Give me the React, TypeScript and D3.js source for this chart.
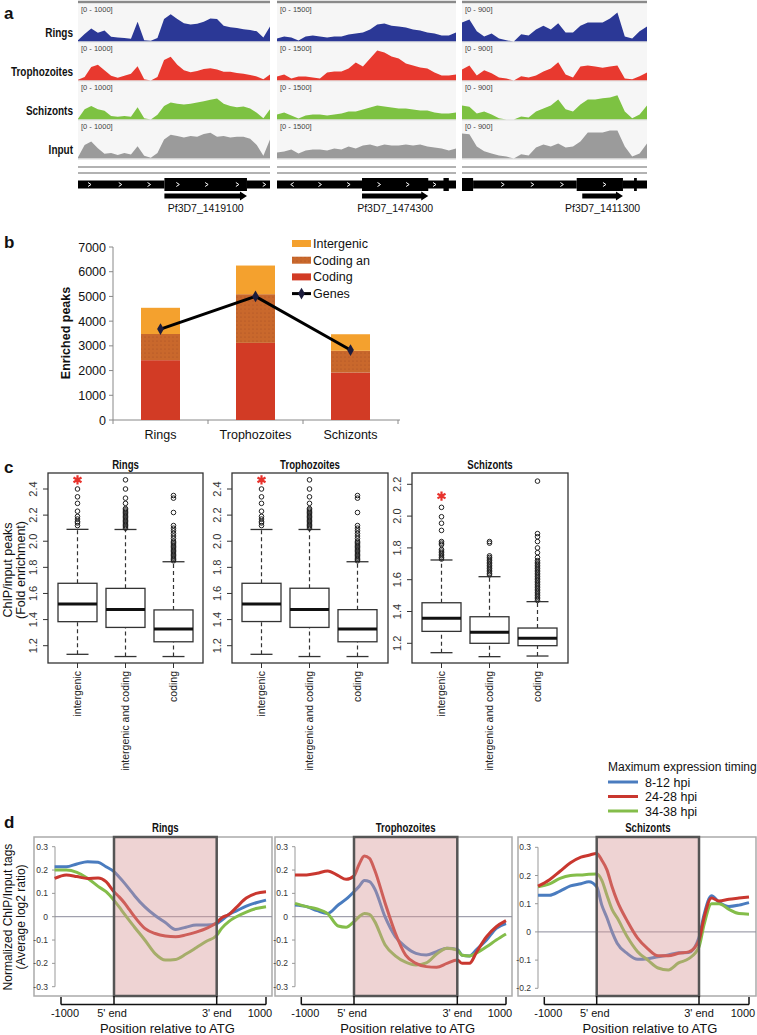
import React, { useEffect, useRef } from 'react';
import * as d3 from 'd3';

const W = 757;
const H = 1035;
const FONT = 'Arial, "Liberation Sans", Helvetica, sans-serif';

// ---------- panel a: coverage tracks ----------
const trackNames = ['Rings', 'Trophozoites', 'Schizonts', 'Input'];
const trackColors = ['#2b3896', '#e8392f', '#7dc242', '#9b9b9b'];
const locusMax = [1000, 1500, 900];
const locusGenes = ['Pf3D7_1419100', 'Pf3D7_1474300', 'Pf3D7_1411300'];

const ringsL1 = [40, 220, 380, 260, 320, 140, 120, 100, 80, 580, 40, 20, 100, 660, 800, 660, 540, 500, 520, 580, 680, 660, 460, 420, 400, 360, 340, 300, 120, 440];
const trophL1 = [20, 100, 400, 460, 300, 140, 80, 140, 200, 420, 40, 0, 100, 600, 700, 460, 300, 240, 280, 340, 360, 320, 260, 260, 220, 200, 160, 120, 40, 180];
const schizL1 = [20, 300, 400, 300, 260, 100, 80, 100, 80, 360, 40, 0, 140, 400, 500, 460, 440, 460, 500, 540, 580, 620, 460, 400, 360, 380, 320, 200, 40, 300];
const inputL1 = [40, 400, 500, 300, 140, 160, 100, 160, 120, 360, 80, 20, 160, 560, 700, 660, 620, 660, 640, 720, 760, 640, 660, 620, 640, 640, 580, 400, 80, 560];

const ringsL2 = [130, 220, 180, 40, 220, 260, 220, 180, 220, 220, 310, 350, 400, 530, 750, 790, 700, 660, 620, 530, 480, 400, 350, 260, 260, 400];
const trophL2 = [180, 260, 90, 180, 180, 130, 90, 350, 400, 400, 530, 790, 620, 970, 1320, 1230, 1060, 970, 750, 660, 570, 530, 350, 220, 220, 260];
const schizL2 = [220, 310, 180, 40, 180, 220, 220, 180, 220, 260, 350, 350, 440, 530, 620, 570, 530, 480, 480, 440, 400, 400, 310, 260, 260, 310];
const inputL2 = [260, 310, 400, 220, 350, 400, 400, 350, 440, 400, 530, 440, 570, 620, 530, 620, 570, 570, 620, 570, 620, 530, 480, 440, 350, 440];

const ringsL3 = [500, 580, 270, 130, 210, 80, 30, 0, 190, 160, 320, 420, 320, 480, 240, 240, 420, 500, 500, 500, 610, 770, 130, 80, 270, 400];
const trophL3 = [290, 400, 130, 270, 190, 80, 50, 0, 110, 80, 130, 240, 320, 480, 160, 80, 370, 400, 370, 340, 370, 400, 50, 30, 110, 210];
const schizL3 = [370, 340, 160, 210, 130, 30, 0, 0, 80, 50, 210, 290, 370, 530, 270, 210, 400, 530, 530, 560, 580, 640, 210, 30, 130, 370];
const inputL3 = [660, 640, 320, 190, 130, 80, 50, 0, 110, 80, 290, 370, 320, 400, 290, 320, 450, 690, 690, 690, 740, 740, 320, 50, 130, 400];

const locusTracks = [
  [ringsL1, trophL1, schizL1, inputL1],
  [ringsL2, trophL2, schizL2, inputL2],
  [ringsL3, trophL3, schizL3, inputL3],
];

// gene models, in % of the locus window
const geneModelL1 = [[0, 45, 'thin'], [45, 88, 'thick'], [88, 100, 'thin']];
const geneModelL2 = [[0, 100, 'thin'], [47.5, 84.5, 'thick'], [93, 96, 'thick']];
const geneModelL3 = [[0, 6, 'thick'], [6, 62, 'thin'], [62, 87, 'thick'], [87, 100, 'thin'], [93, 94.5, 'thick']];
const geneModels = [geneModelL1, geneModelL2, geneModelL3];
const geneArrows = [[45, 88], [47.5, 84.5], [65, 87]];
const chevronsL1 = [6, 22, 37, 52, 67, 83, 97];
const chevronsL2 = [-8.5, 24, 40, 57, 73, 88];
const chevronsL3 = [22, 38, 54, 77];
const geneChevrons = [chevronsL1, chevronsL2, chevronsL3];

// ---------- panel b: enriched peaks ----------
const stages = ['Rings', 'Trophozoites', 'Schizonts'];
const codingPeaks = [2420, 3120, 1920];
const codingAndPeaks = [1060, 1970, 880];
const intergenicPeaks = [1060, 1160, 670];
const genesCount = [3680, 5000, 2830];
const peakTicks = [0, 1000, 2000, 3000, 4000, 5000, 6000, 7000];

// ---------- panel c: fold enrichment boxplots ----------
const peakClasses = ['intergenic', 'intergenic and coding', 'coding'];
// [low whisker, q1, median, q3, high whisker]
const ringsStats = [[1.134, 1.384, 1.519, 1.678, 2.091], [1.117, 1.34, 1.478, 1.639, 2.09], [1.117, 1.23, 1.328, 1.474, 1.843]];
const trophStats = [[1.134, 1.385, 1.52, 1.678, 2.09], [1.117, 1.34, 1.478, 1.64, 2.09], [1.117, 1.23, 1.328, 1.476, 1.843]];
const schizStats = [[1.141, 1.275, 1.357, 1.455, 1.724], [1.116, 1.2, 1.269, 1.367, 1.619], [1.12, 1.185, 1.231, 1.296, 1.462]];

const ringsOut = [
  [2.12, 2.14, 2.15, 2.17, 2.19, 2.23, 2.29, 2.34, 2.4],
  [2.1, 2.11, 2.12, 2.13, 2.14, 2.15, 2.16, 2.17, 2.18, 2.19, 2.2, 2.21, 2.22, 2.23, 2.24, 2.25, 2.29, 2.33, 2.4, 2.47],
  [1.85, 1.86, 1.87, 1.88, 1.89, 1.9, 1.91, 1.92, 1.93, 1.94, 1.95, 1.96, 1.97, 1.98, 1.99, 2.0, 2.02, 2.04, 2.06, 2.08, 2.1, 2.12, 2.22, 2.33, 2.35],
];
const trophOut = [
  [2.12, 2.14, 2.15, 2.17, 2.19, 2.23, 2.29, 2.34, 2.4],
  [2.1, 2.11, 2.12, 2.13, 2.14, 2.15, 2.16, 2.17, 2.18, 2.19, 2.2, 2.21, 2.22, 2.23, 2.24, 2.25, 2.29, 2.34, 2.4, 2.47],
  [1.85, 1.86, 1.87, 1.88, 1.89, 1.9, 1.91, 1.92, 1.93, 1.94, 1.95, 1.96, 1.97, 1.98, 1.99, 2.0, 2.02, 2.04, 2.06, 2.08, 2.1, 2.12, 2.22, 2.33, 2.35],
];
const schizOut = [
  [1.73, 1.74, 1.75, 1.76, 1.77, 1.78, 1.79, 1.82, 1.83, 1.84, 1.91, 1.955, 1.996, 2.055],
  [1.63, 1.64, 1.65, 1.66, 1.67, 1.68, 1.69, 1.7, 1.71, 1.72, 1.73, 1.74, 1.75, 1.83, 1.84],
  [1.47, 1.48, 1.49, 1.5, 1.51, 1.52, 1.53, 1.54, 1.55, 1.56, 1.57, 1.58, 1.59, 1.6, 1.61, 1.62, 1.63, 1.64, 1.65, 1.66, 1.67, 1.68, 1.69, 1.7, 1.71, 1.72, 1.74, 1.77, 1.8, 1.84, 1.87, 1.89, 2.22],
];
const starValues = [2.47, 2.47, 2.126];

// ---------- panel d: metagene profiles ----------
const timingNames = ['8-12 hpi', '24-28 hpi', '34-38 hpi'];
const timingColors = ['#4a7cbf', '#c9372f', '#84bd4a'];
// position: 0 = -1000, 1 = 5' end, 2 = 3' end, 3 = +1000
const metaPos = [-0.12, 0.1, 0.3, 0.5, 0.7, 0.85, 1.0, 1.05, 1.1, 1.15, 1.2, 1.3, 1.4, 1.5, 1.6, 1.7, 1.8, 1.9, 2.0, 2.1, 2.25, 2.4, 2.6, 2.8, 3.0];

const ringsEarly = [0.214, 0.214, 0.226, 0.236, 0.233, 0.214, 0.193, 0.17, 0.145, 0.118, 0.09, 0.042, 0.005, -0.025, -0.055, -0.045, -0.036, -0.036, -0.03, -0.015, 0.01, 0.025, 0.045, 0.06, 0.071];
const ringsMid = [0.164, 0.179, 0.172, 0.164, 0.166, 0.15, 0.107, 0.085, 0.06, 0.03, 0.0, -0.05, -0.072, -0.083, -0.086, -0.078, -0.066, -0.05, -0.025, -0.005, 0.01, 0.04, 0.08, 0.1, 0.107];
const ringsLate = [0.2, 0.2, 0.19, 0.165, 0.13, 0.107, 0.07, 0.042, 0.012, -0.017, -0.045, -0.1, -0.158, -0.186, -0.183, -0.16, -0.133, -0.105, -0.08, -0.05, -0.02, 0.0, 0.02, 0.035, 0.043];

const trophEarly = [0.05, 0.043, 0.026, 0.014, 0.05, 0.075, 0.107, 0.13, 0.155, 0.15, 0.12, 0.0, -0.085, -0.13, -0.157, -0.164, -0.15, -0.135, -0.14, -0.165, -0.168, -0.14, -0.1, -0.05, -0.029];
const trophMid = [0.179, 0.179, 0.186, 0.196, 0.176, 0.16, 0.175, 0.225, 0.26, 0.25, 0.2, 0.06, -0.07, -0.165, -0.2, -0.214, -0.217, -0.2, -0.186, -0.2, -0.2, -0.15, -0.086, -0.043, -0.017];
const trophLate = [0.057, 0.043, 0.033, 0.013, -0.04, -0.045, -0.021, 0.0, 0.014, 0.01, -0.02, -0.12, -0.168, -0.195, -0.207, -0.198, -0.16, -0.135, -0.143, -0.165, -0.168, -0.155, -0.129, -0.1, -0.074];

const schizEarly = [0.13, 0.13, 0.145, 0.163, 0.171, 0.178, 0.16, 0.095, 0.05, 0.0, -0.04, -0.077, -0.097, -0.095, -0.088, -0.082, -0.074, -0.073, -0.02, 0.06, 0.128, 0.105, 0.09, 0.095, 0.104];
const schizMid = [0.162, 0.185, 0.215, 0.245, 0.265, 0.272, 0.278, 0.254, 0.22, 0.16, 0.11, 0.038, -0.022, -0.06, -0.085, -0.085, -0.076, -0.071, -0.03, 0.05, 0.12, 0.11, 0.116, 0.12, 0.124];
const schizLate = [0.16, 0.17, 0.19, 0.2, 0.202, 0.204, 0.205, 0.183, 0.13, 0.08, 0.05, -0.018, -0.07, -0.1, -0.128, -0.135, -0.11, -0.095, -0.053, 0.025, 0.1, 0.1, 0.08, 0.065, 0.063];

const profileTicksA = [0.3, 0.2, 0.1, 0, -0.1, -0.2, -0.3];
const profileTicksS = [0.3, 0.2, 0.1, 0, -0.1, -0.2];
const metaTickLabels = ['-1000', "5' end", "3' end", '1000'];

type Sel = d3.Selection<any, unknown, null, undefined>;

function label(g: Sel, x: number, y: number, text: string, size: number, opts: any = {}) {
  const t = g
    .append('text')
    .attr('text-anchor', opts.anchor || 'start')
    .attr('font-family', FONT)
    .attr('font-size', size)
    .attr('font-weight', opts.weight || 'normal')
    .attr('fill', opts.fill || '#111')
    .text(text);
  if (opts.squeeze) {
    // condensed headline face, imitated by squeezing Arial horizontally
    t.attr('x', 0).attr('y', 0).attr('transform', `translate(${x},${y}) scale(${opts.squeeze},1)`);
  } else {
    t.attr('x', x).attr('y', y).attr('transform', opts.rotate ? `rotate(${opts.rotate},${x},${y})` : null);
  }
  return t;
}

function drawTracks(svg: Sel) {
  const colX = [[78, 270], [277, 456], [462, 647]];
  const g = svg.append('g');
  label(g, 4, 19, 'a', 17, { weight: 'bold' });

  trackNames.forEach((name, r) => {
    const base = 3 + r * 39 + 38.5;
    label(g, 73, base - 5, name, 13.5, { anchor: 'end', weight: 'bold', squeeze: 0.74 });
  });

  locusTracks.forEach((tracks, c) => {
    const [x0, x1] = colX[c];
    g.append('line').attr('x1', x0).attr('x2', x1).attr('y1', 2).attr('y2', 2)
      .attr('stroke', '#8a8a8a').attr('stroke-width', 2.5);
    tracks.forEach((vals, r) => {
      const top = 3 + r * 39;
      const base = top + 38.5;
      g.append('rect').attr('x', x0).attr('y', top + 1).attr('width', x1 - x0).attr('height', base - top - 1)
        .attr('fill', '#f6f6f6');
      const x = d3.scaleLinear().domain([0, vals.length - 1]).range([x0, x1]);
      const y = d3.scaleLinear().domain([0, locusMax[c]]).range([base, base - 34]);
      const area = d3.area<number>().x((_d, i) => x(i)).y0(base).y1(d => y(d));
      g.append('path').attr('d', area(vals)).attr('fill', trackColors[r]);
      g.append('line').attr('x1', x0).attr('x2', x1).attr('y1', base + 0.5).attr('y2', base + 0.5)
        .attr('stroke', '#d8d8d8').attr('stroke-width', 1);
      label(g, x0 + 3, top + 9, `[0 - ${locusMax[c]}]`, 7.5, { fill: '#444' });
    });
    [167, 173].forEach(yy =>
      g.append('line').attr('x1', x0).attr('x2', x1).attr('y1', yy).attr('y2', yy)
        .attr('stroke', '#999').attr('stroke-width', 1.5));

    // gene model
    const gx = d3.scaleLinear().domain([0, 100]).range([x0, x1]);
    geneModels[c].forEach(([a, b, kind]) => {
      const thick = kind === 'thick';
      g.append('rect').attr('x', gx(a as number)).attr('width', gx(b as number) - gx(a as number))
        .attr('y', thick ? 178 : 180.5).attr('height', thick ? 13 : 8).attr('fill', '#000');
    });
    geneChevrons[c].forEach(p => {
      const px = gx(Math.abs(p));
      const dir = p < 0 ? -1 : 1;
      g.append('path')
        .attr('d', `M${px - 1.5 * dir},${182.5} L${px + 1.5 * dir},${184.5} L${px - 1.5 * dir},${186.5}`)
        .attr('fill', 'none').attr('stroke', '#fff').attr('stroke-width', 1);
    });
    const [a0, a1] = geneArrows[c];
    const ax0 = gx(a0);
    const ax1 = gx(a1);
    g.append('path')
      .attr('d', `M${ax0},193.5 L${ax1 - 7},193.5 L${ax1 - 7},191.5 L${ax1},196 L${ax1 - 7},200.5 L${ax1 - 7},198.5 L${ax0},198.5 Z`)
      .attr('fill', '#000');
    label(g, (ax0 + ax1) / 2, 212, locusGenes[c], 10.5, { anchor: 'middle' });
  });
}

function drawPeaks(svg: Sel) {
  const g = svg.append('g');
  label(g, 4, 248, 'b', 17, { weight: 'bold' });
  const defs = svg.append('defs');
  const pat = defs.append('pattern').attr('id', 'dots').attr('width', 4).attr('height', 4)
    .attr('patternUnits', 'userSpaceOnUse');
  pat.append('rect').attr('width', 4).attr('height', 4).attr('fill', '#c9682c');
  pat.append('circle').attr('cx', 1).attr('cy', 1).attr('r', 0.6).attr('fill', '#8a3e1c').attr('opacity', 0.6);

  const x = d3.scaleBand().domain(stages).range([113, 398]);
  const y = d3.scaleLinear().domain([0, 7000]).range([420, 247]);
  const bw = 39;

  g.append('line').attr('x1', 113).attr('x2', 113).attr('y1', y(7000)).attr('y2', y(0)).attr('stroke', '#888');
  peakTicks.forEach(t => {
    g.append('line').attr('x1', 109).attr('x2', 113).attr('y1', y(t)).attr('y2', y(t)).attr('stroke', '#888');
    label(g, 106, y(t) + 4.5, String(t), 12.5, { anchor: 'end' });
  });
  g.append('line').attr('x1', 113).attr('x2', 400).attr('y1', y(0)).attr('y2', y(0)).attr('stroke', '#888');
  [113, 208, 303, 398].forEach(t =>
    g.append('line').attr('x1', t).attr('x2', t).attr('y1', y(0)).attr('y2', y(0) + 4).attr('stroke', '#888'));

  stages.forEach((s, i) => {
    const cx = (x(s) || 0) + x.bandwidth() / 2;
    const c1 = codingPeaks[i];
    const c2 = c1 + codingAndPeaks[i];
    const c3 = c2 + intergenicPeaks[i];
    g.append('rect').attr('x', cx - bw / 2).attr('width', bw).attr('y', y(c1)).attr('height', y(0) - y(c1)).attr('fill', '#d23b25');
    g.append('rect').attr('x', cx - bw / 2).attr('width', bw).attr('y', y(c2)).attr('height', y(c1) - y(c2)).attr('fill', 'url(#dots)');
    g.append('rect').attr('x', cx - bw / 2).attr('width', bw).attr('y', y(c3)).attr('height', y(c2) - y(c3)).attr('fill', '#f4a12e');
    label(g, cx, 439, s, 12.5, { anchor: 'middle' });
  });

  const line = d3.line<number>().x((_d, i) => (x(stages[i]) || 0) + x.bandwidth() / 2).y(d => y(d));
  g.append('path').attr('d', line(genesCount)).attr('fill', 'none').attr('stroke', '#000').attr('stroke-width', 3);
  const diamond = d3.symbol(d3.symbolDiamond, 40);
  genesCount.forEach((v, i) => {
    g.append('path').attr('d', diamond()).attr('fill', '#1c1c3c')
      .attr('transform', `translate(${(x(stages[i]) || 0) + x.bandwidth() / 2},${y(v)})`);
  });

  label(g, 70, 333, 'Enriched peaks', 12.5, { anchor: 'middle', weight: 'bold', rotate: -90 });

  const legend = [
    { name: 'Intergenic', fill: '#f4a12e' },
    { name: 'Coding an', fill: 'url(#dots)' },
    { name: 'Coding', fill: '#d23b25' },
  ];
  legend.forEach((l, i) => {
    const cy = 243.5 + i * 16.7;
    g.append('rect').attr('x', 292).attr('y', cy - 3.5).attr('width', 19).attr('height', 7).attr('fill', l.fill);
    label(g, 313, cy + 4.5, l.name, 12.5);
  });
  const gy = 243.5 + 3 * 16.7;
  g.append('line').attr('x1', 292).attr('x2', 311).attr('y1', gy).attr('y2', gy).attr('stroke', '#000').attr('stroke-width', 3);
  g.append('path').attr('d', diamond()).attr('fill', '#1c1c3c').attr('transform', `translate(301.5,${gy})`);
  label(g, 313, gy + 4.5, 'Genes', 12.5);
}

function drawBoxes(svg: Sel) {
  const g = svg.append('g');
  label(g, 4, 473, 'c', 17, { weight: 'bold' });
  const panels = [
    { name: 'Rings', x0: 48, x1: 203, stats: ringsStats, out: ringsOut, dom: [1.2, 2.4], rng: [645.7, 489], ticks: [1.2, 1.4, 1.6, 1.8, 2.0, 2.2, 2.4] },
    { name: 'Trophozoites', x0: 232, x1: 388, stats: trophStats, out: trophOut, dom: [1.2, 2.4], rng: [645.7, 489], ticks: [1.2, 1.4, 1.6, 1.8, 2.0, 2.2, 2.4] },
    { name: 'Schizonts', x0: 412, x1: 568, stats: schizStats, out: schizOut, dom: [1.2, 2.2], rng: [643.3, 484.3], ticks: [1.2, 1.4, 1.6, 1.8, 2.0, 2.2] },
  ];
  const top = 473;
  const bottom = 663;
  const star = d3.symbol(d3.symbolAsterisk, 60);

  panels.forEach((p, pi) => {
    const y = d3.scaleLinear().domain(p.dom).range(p.rng);
    const x = d3.scalePoint().domain(peakClasses).range([p.x0 + 29.5, p.x0 + 125.5]);
    g.append('rect').attr('x', p.x0).attr('y', top).attr('width', p.x1 - p.x0).attr('height', bottom - top)
      .attr('fill', 'none').attr('stroke', '#333').attr('stroke-width', 1.3);
    label(g, (p.x0 + p.x1) / 2, 469, p.name, 13, { anchor: 'middle', weight: 'bold', squeeze: 0.74 });
    p.ticks.forEach(t => {
      g.append('line').attr('x1', p.x0 - 5).attr('x2', p.x0).attr('y1', y(t)).attr('y2', y(t)).attr('stroke', '#333');
      label(g, p.x0 - 11, y(t), t.toFixed(1), 11, { anchor: 'middle', rotate: -90, fill: '#333' });
    });
    peakClasses.forEach((cls, ci) => {
      const cx = x(cls) || 0;
      const [lo, q1, med, q3, hi] = p.stats[ci];
      const bw = 39;
      const cap = 11;
      g.append('line').attr('x1', cx).attr('x2', cx).attr('y1', y(q3)).attr('y2', y(hi))
        .attr('stroke', '#333').attr('stroke-width', 1.2).attr('stroke-dasharray', '4,3');
      g.append('line').attr('x1', cx).attr('x2', cx).attr('y1', y(lo)).attr('y2', y(q1))
        .attr('stroke', '#333').attr('stroke-width', 1.2).attr('stroke-dasharray', '4,3');
      [lo, hi].forEach(v =>
        g.append('line').attr('x1', cx - cap).attr('x2', cx + cap).attr('y1', y(v)).attr('y2', y(v))
          .attr('stroke', '#333').attr('stroke-width', 1.3));
      g.append('rect').attr('x', cx - bw / 2).attr('width', bw).attr('y', y(q3)).attr('height', y(q1) - y(q3))
        .attr('fill', '#fff').attr('stroke', '#333').attr('stroke-width', 1.3);
      g.append('line').attr('x1', cx - bw / 2).attr('x2', cx + bw / 2).attr('y1', y(med)).attr('y2', y(med))
        .attr('stroke', '#111').attr('stroke-width', 3);
      p.out[ci].forEach(v =>
        g.append('circle').attr('cx', cx).attr('cy', y(v)).attr('r', 2.3)
          .attr('fill', 'none').attr('stroke', '#222').attr('stroke-width', 1));
      if (ci === 0) {
        g.append('path').attr('d', star()).attr('transform', `translate(${cx},${y(starValues[pi])})`)
          .attr('stroke', '#e8322c').attr('stroke-width', 2.2).attr('fill', 'none');
      }
      g.append('line').attr('x1', cx).attr('x2', cx).attr('y1', bottom).attr('y2', bottom + 5).attr('stroke', '#333');
      label(g, cx + 3.5, bottom + 8, cls, 10.5, { anchor: 'end', rotate: -90, fill: '#222' });
    });
  });

  label(g, 12, 570, 'ChIP/input peaks', 12.5, { anchor: 'middle', rotate: -90 });
  label(g, 25, 570, '(Fold enrichment)', 12.5, { anchor: 'middle', rotate: -90 });
}

function drawProfiles(svg: Sel) {
  const g = svg.append('g');
  label(g, 4, 828, 'd', 17, { weight: 'bold' });

  const top = 837;
  const bottom = 996;
  const panels = [
    { name: 'Rings', f0: 34, f1: 272, axisX: 55, ticks: [61, 114, 216.7, 266], dom: [-0.3, 0.3], rng: [986.7, 846.7], yt: profileTicksA, curves: [ringsEarly, ringsMid, ringsLate] },
    { name: 'Trophozoites', f0: 275, f1: 512, axisX: 295, ticks: [301.3, 354, 457.3, 506], dom: [-0.3, 0.3], rng: [986.7, 846.7], yt: profileTicksA, curves: [trophEarly, trophMid, trophLate] },
    { name: 'Schizonts', f0: 518, f1: 756, axisX: 538, ticks: [544.3, 596.7, 699, 749], dom: [-0.2, 0.3], rng: [988.3, 847.3], yt: profileTicksS, curves: [schizEarly, schizMid, schizLate] },
  ];

  panels.forEach(p => {
    const x = d3.scaleLinear().domain([0, 1, 2, 3]).range(p.ticks);
    const y = d3.scaleLinear().domain(p.dom).range(p.rng);
    g.append('rect').attr('x', p.f0).attr('y', top).attr('width', p.f1 - p.f0).attr('height', bottom - top)
      .attr('fill', '#fff').attr('stroke', '#aaa').attr('stroke-width', 1.5);
    // y axis
    g.append('line').attr('x1', p.axisX).attr('x2', p.axisX).attr('y1', y(p.dom[1])).attr('y2', y(p.dom[0]))
      .attr('stroke', '#999');
    p.yt.forEach(t => {
      g.append('line').attr('x1', p.axisX - 3).attr('x2', p.axisX).attr('y1', y(t)).attr('y2', y(t)).attr('stroke', '#999');
      label(g, p.axisX - 7, y(t) + 3, t === 0 ? '0' : t.toFixed(1), 8.5, { anchor: 'end', fill: '#333' });
    });
    g.append('line').attr('x1', p.axisX).attr('x2', p.f1).attr('y1', y(0)).attr('y2', y(0))
      .attr('stroke', '#8a8a9a').attr('stroke-width', 1);

    const line = d3.line<number>().x((_d, i) => x(metaPos[i])).y(d => y(d)).curve(d3.curveMonotoneX);
    [0, 2, 1].forEach(k => {
      g.append('path').attr('d', line(p.curves[k])).attr('fill', 'none')
        .attr('stroke', timingColors[k]).attr('stroke-width', 3).attr('stroke-linejoin', 'round');
    });

    // gene body shading
    g.append('rect').attr('x', x(1)).attr('y', top).attr('width', x(2) - x(1)).attr('height', bottom - top)
      .attr('fill', 'rgb(215,150,150)').attr('fill-opacity', 0.42)
      .attr('stroke', '#555').attr('stroke-width', 2.5);

    // bracket axis
    const by = 1004.5;
    const shift = [4, -2, 0, -6];
    g.append('line').attr('x1', x(0)).attr('x2', x(3)).attr('y1', by).attr('y2', by).attr('stroke', '#111').attr('stroke-width', 1.5);
    [0, 1, 2, 3].forEach((t, i) => {
      g.append('line').attr('x1', x(t)).attr('x2', x(t)).attr('y1', i === 1 || i === 2 ? bottom : 997).attr('y2', by)
        .attr('stroke', '#111').attr('stroke-width', 1.5);
      label(g, x(t) + shift[i], 1017, metaTickLabels[i], 11, { anchor: 'middle' });
    });
    const mid = (x(1) + x(2)) / 2;
    label(g, mid + 2, 1033, 'Position relative to ATG', 13, { anchor: 'middle' });
    label(g, mid, 832, p.name, 13, { anchor: 'middle', weight: 'bold', squeeze: 0.74 });
  });

  label(g, 12, 917, 'Normalized ChIP/Input tags', 12, { anchor: 'middle', rotate: -90 });
  label(g, 25, 917, '(Average log2 ratio)', 12, { anchor: 'middle', rotate: -90 });

  // legend
  label(g, 608, 771, 'Maximum expression timing', 12);
  timingNames.forEach((n, i) => {
    const ly = 782 + i * 14.5;
    g.append('line').attr('x1', 608).attr('x2', 638).attr('y1', ly).attr('y2', ly)
      .attr('stroke', timingColors[i]).attr('stroke-width', 3);
    label(g, 645, ly + 4.5, n, 12.5);
  });
}

const App: React.FC = () => {
  const svgRef = useRef<SVGSVGElement>(null);

  useEffect(() => {
    if (!svgRef.current) return;
    const svg = d3.select(svgRef.current);
    svg.selectAll('*').remove();
    svg.append('rect').attr('width', W).attr('height', H).attr('fill', '#fff');
    drawTracks(svg);
    drawPeaks(svg);
    drawBoxes(svg);
    drawProfiles(svg);
  }, []);

  return (
    <svg
      ref={svgRef}
      width={W}
      height={H}
      viewBox={`0 0 ${W} ${H}`}
      style={{ position: 'absolute', left: 0, top: 0, display: 'block' }}
    />
  );
};

export default App;
